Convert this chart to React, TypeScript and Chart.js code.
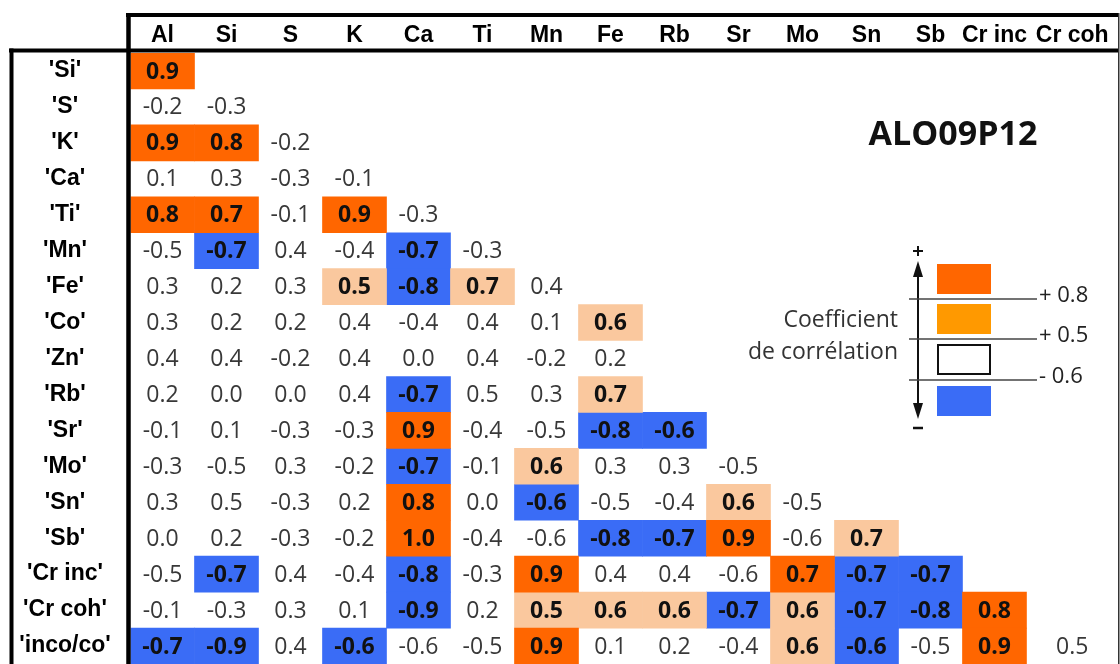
import React, { useEffect, useRef } from "react";
import { Chart, registerables } from "chart.js";

Chart.register(...registerables);

// ---- data ----
const COLUMNS = ["Al", "Si", "S", "K", "Ca", "Ti", "Mn", "Fe", "Rb", "Sr", "Mo", "Sn", "Sb", "Cr inc", "Cr coh"];
const ROWS = ["'Si'", "'S'", "'K'", "'Ca'", "'Ti'", "'Mn'", "'Fe'", "'Co'", "'Zn'", "'Rb'", "'Sr'", "'Mo'", "'Sn'", "'Sb'", "'Cr inc'", "'Cr coh'", "'inco/co'"];

const R_SI = [0.9];
const R_S = [-0.2, -0.3];
const R_K = [0.9, 0.8, -0.2];
const R_CA = [0.1, 0.3, -0.3, -0.1];
const R_TI = [0.8, 0.7, -0.1, 0.9, -0.3];
const R_MN = [-0.5, -0.7, 0.4, -0.4, -0.7, -0.3];
const R_FE = [0.3, 0.2, 0.3, 0.5, -0.8, 0.7, 0.4];
const R_CO = [0.3, 0.2, 0.2, 0.4, -0.4, 0.4, 0.1, 0.6];
const R_ZN = [0.4, 0.4, -0.2, 0.4, 0.0, 0.4, -0.2, 0.2];
const R_RB = [0.2, 0.0, 0.0, 0.4, -0.7, 0.5, 0.3, 0.7];
const R_SR = [-0.1, 0.1, -0.3, -0.3, 0.9, -0.4, -0.5, -0.8, -0.6];
const R_MO = [-0.3, -0.5, 0.3, -0.2, -0.7, -0.1, 0.6, 0.3, 0.3, -0.5];
const R_SN = [0.3, 0.5, -0.3, 0.2, 0.8, 0.0, -0.6, -0.5, -0.4, 0.6, -0.5];
const R_SB = [0.0, 0.2, -0.3, -0.2, 1.0, -0.4, -0.6, -0.8, -0.7, 0.9, -0.6, 0.7];
const R_CRINC = [-0.5, -0.7, 0.4, -0.4, -0.8, -0.3, 0.9, 0.4, 0.4, -0.6, 0.7, -0.7, -0.7];
const R_CRCOH = [-0.1, -0.3, 0.3, 0.1, -0.9, 0.2, 0.5, 0.6, 0.6, -0.7, 0.6, -0.7, -0.8, 0.8];
const R_INCOCO = [-0.7, -0.9, 0.4, -0.6, -0.6, -0.5, 0.9, 0.1, 0.2, -0.4, 0.6, -0.6, -0.5, 0.9, 0.5];

const VALUES = [R_SI, R_S, R_K, R_CA, R_TI, R_MN, R_FE, R_CO, R_ZN, R_RB, R_SR, R_MO, R_SN, R_SB, R_CRINC, R_CRCOH, R_INCOCO];

// highlight class per cell: D = strong positive, L = positive, B = negative, . = none
const CLASSES = [
  "D",
  "..",
  "DD.",
  "....",
  "DD.D.",
  ".B..B.",
  "...LBL.",
  ".......L",
  "........",
  "....B..L",
  "....D..BB",
  "....B.L...",
  "....D.B..L.",
  "....D..BBD.L",
  ".B..B.D...DBB",
  "....B.LLLBLBBD",
  "BB.B..D...LB.D.",
];

const LEGEND_LABELS = ["+ 0.8", "+ 0.5", "- 0.6"];
const TITLE = "ALO09P12";

// ---- styles ----
const SHADES: Record<string, string> = { D: "#FF6600", L: "#FAC89E", B: "#3A6CF6" };
const LEGEND_ORANGE = "#FF9900";
const XMAX = 15.43;

const colStart = (c: number) => c;
const colEnd = (c: number) => (c === COLUMNS.length - 1 ? XMAX : c + 1);
const colCenter = (c: number) => (colStart(c) + colEnd(c)) / 2;

function buildDataset(kind: string, label: string) {
  const data: any[] = [];
  VALUES.forEach((row, r) =>
    row.forEach((_v, c) => {
      if (CLASSES[r][c] === kind) data.push({ x: [colStart(c), colEnd(c)], y: ROWS[r] });
    })
  );
  return {
    label,
    data,
    backgroundColor: SHADES[kind],
    borderWidth: 0,
    barPercentage: 1,
    categoryPercentage: 1,
    grouped: false,
  };
}

const LABEL_FONT = "'Liberation Sans', Arial, sans-serif";
const NUM_FONT = "'Open Sans', sans-serif";

const cellTextPlugin = {
  id: "cellText",
  afterDatasetsDraw(chart: any) {
    const { ctx } = chart;
    const xs = chart.scales.x;
    const ys = chart.scales.y;
    ctx.save();
    ctx.textAlign = "center";
    ctx.textBaseline = "middle";
    VALUES.forEach((row, r) =>
      row.forEach((v, c) => {
        const strong = CLASSES[r][c] !== ".";
        ctx.font = `${strong ? "bold " : ""}23px ${NUM_FONT}`;
        ctx.fillStyle = strong ? "#111" : "#383838";
        ctx.fillText(v.toFixed(1), xs.getPixelForValue(colCenter(c)), ys.getPixelForValue(r) + 1);
      })
    );
    ctx.restore();
  },
};

function line(ctx: any, x1: number, y1: number, x2: number, y2: number, w: number, color = "#000") {
  ctx.beginPath();
  ctx.lineWidth = w;
  ctx.strokeStyle = color;
  ctx.moveTo(x1, y1);
  ctx.lineTo(x2, y2);
  ctx.stroke();
}

const framePlugin = {
  id: "frame",
  afterDraw(chart: any) {
    const { ctx, chartArea: a } = chart;
    const H = chart.height;
    ctx.save();
    ctx.lineCap = "butt";
    // table frame
    line(ctx, a.left - 4.5, 15, a.right + 1, 15, 4);
    line(ctx, 9, a.top - 2.5, a.right + 1, a.top - 2.5, 4);
    line(ctx, a.left - 2, 13, a.left - 2, H, 4.5);
    line(ctx, 11.5, a.top - 4.5, 11.5, H, 4);
    line(ctx, a.right + 0.75, 13, a.right + 0.75, H, 1.5, "#333");

    // title
    ctx.fillStyle = "#111";
    ctx.textAlign = "center";
    ctx.textBaseline = "middle";
    ctx.font = `bold 34px ${NUM_FONT}`;
    ctx.fillText(TITLE, 953, 135);

    // legend
    const ax = 918;
    line(ctx, ax, 272, ax, 408, 2, "#111");
    ctx.fillStyle = "#111";
    ctx.beginPath();
    ctx.moveTo(ax, 261);
    ctx.lineTo(ax - 5, 277);
    ctx.lineTo(ax + 5, 277);
    ctx.closePath();
    ctx.fill();
    ctx.beginPath();
    ctx.moveTo(ax, 419);
    ctx.lineTo(ax - 5, 403);
    ctx.lineTo(ax + 5, 403);
    ctx.closePath();
    ctx.fill();
    // plus / minus
    line(ctx, ax - 5, 251, ax + 5, 251, 2, "#111");
    line(ctx, ax, 246, ax, 256, 2, "#111");
    line(ctx, ax - 5, 428, ax + 5, 428, 2.5, "#111");

    // boxes
    ctx.fillStyle = SHADES.D;
    ctx.fillRect(937, 264, 54, 30);
    ctx.fillStyle = LEGEND_ORANGE;
    ctx.fillRect(937, 304, 54, 30);
    ctx.lineWidth = 2;
    ctx.strokeStyle = "#111";
    ctx.strokeRect(938, 345, 52, 29);
    ctx.fillStyle = SHADES.B;
    ctx.fillRect(937, 386, 54, 30);

    // threshold lines + labels
    const ly = [299, 339, 380];
    ctx.font = `22px ${NUM_FONT}`;
    ctx.textAlign = "left";
    ctx.fillStyle = "#222";
    ly.forEach((yy, i) => {
      line(ctx, 909, yy, 1037, yy, 1.5, "#444");
      ctx.fillText(LEGEND_LABELS[i], 1039, yy - 3);
    });

    ctx.font = `23px ${NUM_FONT}`;
    ctx.textAlign = "right";
    ctx.fillStyle = "#333";
    ctx.fillText("Coefficient", 898, 320);
    ctx.fillText("de corrélation", 898, 352);
    ctx.restore();
  },
};

export default function App() {
  const ref = useRef<HTMLCanvasElement | null>(null);

  useEffect(() => {
    const canvas = ref.current;
    if (!canvas) return;
    const rowFont = { family: LABEL_FONT, size: 23, weight: "bold" as const, lineHeight: 1 };
    const m = document.createElement("canvas").getContext("2d")!;
    m.font = `bold 23px ${LABEL_FONT}`;
    const widest = Math.max(...ROWS.map((s) => m.measureText(s).width));
    const leftW = 130.5;
    const rowPad = Math.max(0, leftW - 65 - widest / 2);

    const chart = new Chart(canvas, {
      type: "bar",
      data: {
        labels: ROWS,
        datasets: [buildDataset("D", "strong +"), buildDataset("L", "+"), buildDataset("B", "-")] as any,
      },
      options: {
        indexAxis: "y",
        animation: false,
        responsive: false,
        devicePixelRatio: 1,
        events: [],
        layout: { autoPadding: false, padding: { top: 0, left: 0, right: 2, bottom: 0 } },
        plugins: { legend: { display: false }, tooltip: { enabled: false }, title: { display: false } },
        scales: {
          x: {
            type: "linear",
            position: "top",
            min: 0,
            max: XMAX,
            grid: { display: false, drawTicks: false },
            border: { display: false },
            afterBuildTicks: (scale: any) => {
              scale.ticks = COLUMNS.map((_c, i) => ({ value: colCenter(i) }));
            },
            afterFit: (scale: any) => {
              scale.height = 53;
              scale.paddingLeft = 0;
              scale.paddingRight = 0;
            },
            ticks: {
              autoSkip: false,
              maxRotation: 0,
              minRotation: 0,
              padding: 4,
              color: "#000",
              font: { family: LABEL_FONT, size: 23, weight: "bold", lineHeight: 1.2 },
              callback: (_v: any, i: number) => COLUMNS[i],
            },
          },
          y: {
            type: "category",
            position: "left",
            grid: { display: false, drawTicks: false },
            border: { display: false },
            afterFit: (scale: any) => {
              scale.width = leftW;
              scale.paddingTop = 0;
              scale.paddingBottom = 0;
            },
            ticks: {
              autoSkip: false,
              crossAlign: "center",
              padding: rowPad,
              color: "#000",
              font: rowFont,
            },
          },
        },
      } as any,
      plugins: [cellTextPlugin, framePlugin],
    });
    return () => chart.destroy();
  }, []);

  return (
    <div
      style={{
        position: "fixed",
        left: 0,
        top: 0,
        width: 1120,
        height: 664,
        overflow: "hidden",
        background: "#fff",
      }}
    >
      <canvas ref={ref} width={1120} height={664} style={{ display: "block" }} />
    </div>
  );
}
